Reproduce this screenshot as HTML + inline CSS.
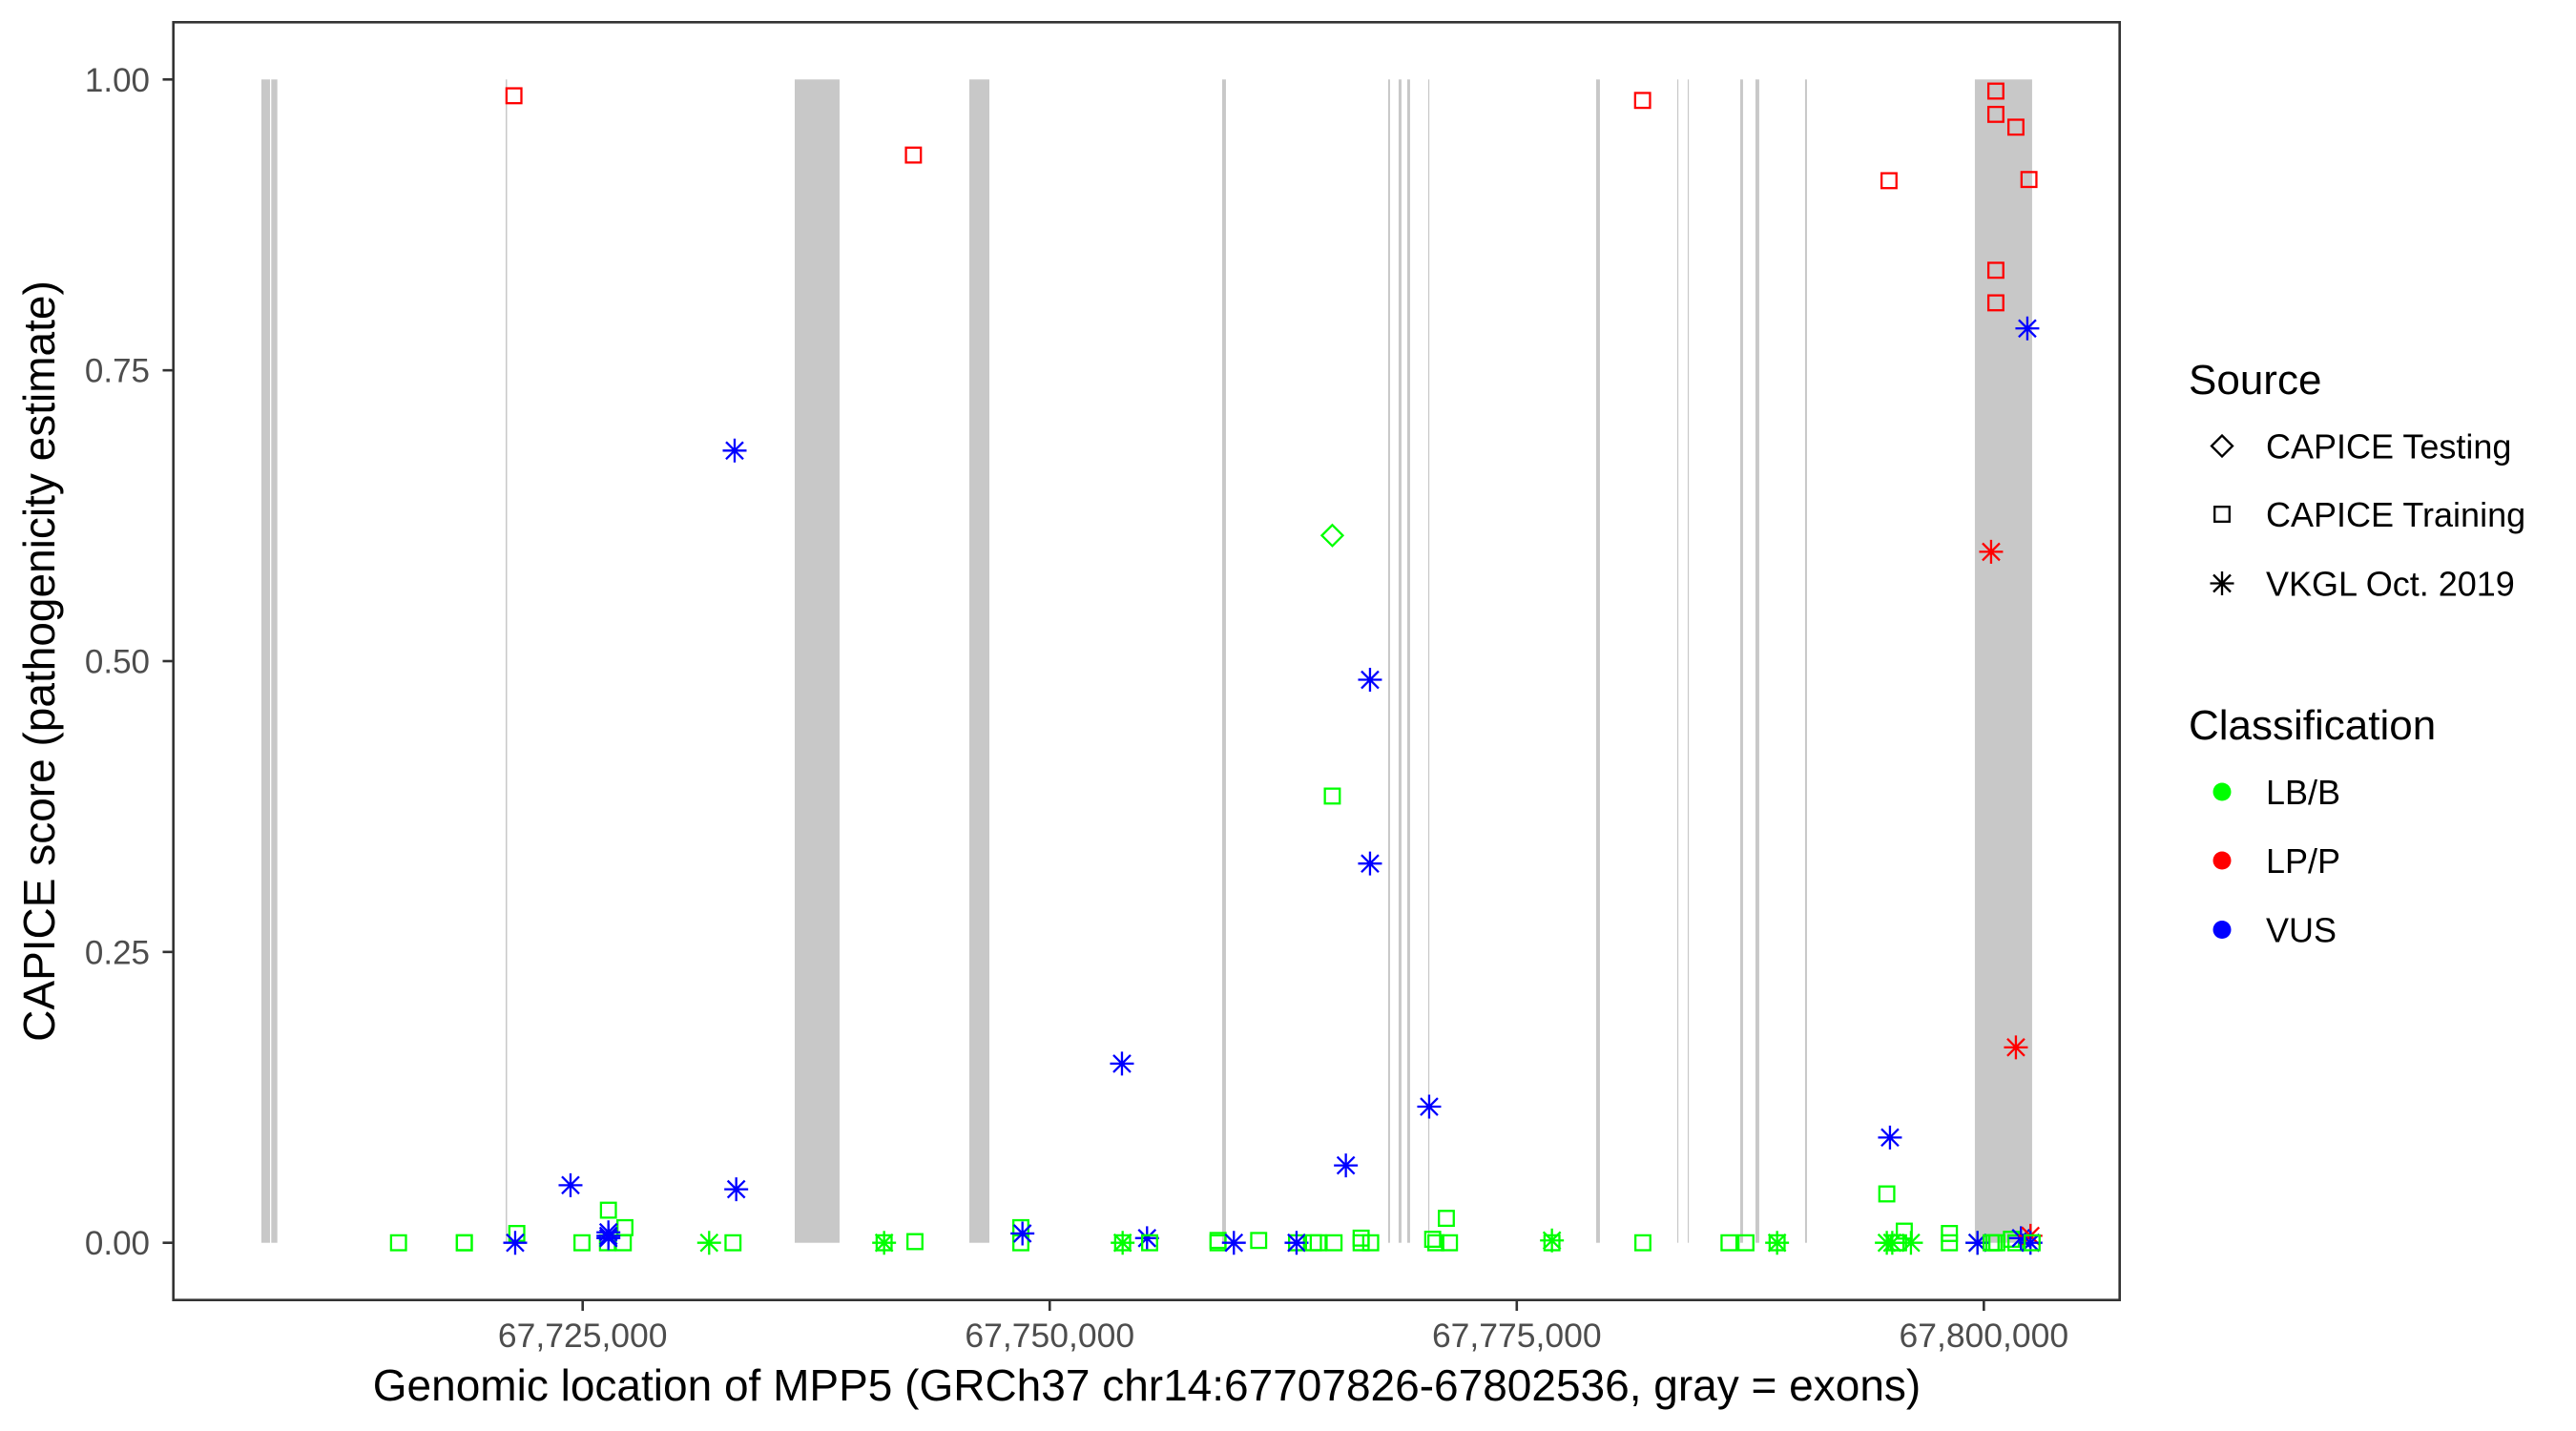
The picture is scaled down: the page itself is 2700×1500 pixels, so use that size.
<!DOCTYPE html>
<html>
<head>
<meta charset="utf-8">
<style>
  html, body { margin: 0; padding: 0; background: #ffffff; }
  #chart { width: 2700px; height: 1500px; display: block; }
  text { font-family: "Liberation Sans", Arial, sans-serif; }
</style>
</head>
<body>
<svg id="chart" width="2700" height="1500" viewBox="0 0 2700 1500" xmlns="http://www.w3.org/2000/svg">
  <rect x="0" y="0" width="2700" height="1500" fill="#ffffff"/>
  <g id="exons"></g>
  <g id="points"></g>
  <rect x="181.7" y="23.3" width="2040" height="1339.4" fill="none" stroke="#333333" stroke-width="2.6"/>
  <g id="axes"></g>
  <text x="1202" y="1468" font-size="46" text-anchor="middle" fill="#000">Genomic location of MPP5 (GRCh37 chr14:67707826-67802536, gray = exons)</text>
  <text transform="translate(57,693) rotate(-90)" font-size="46" text-anchor="middle" fill="#000">CAPICE score (pathogenicity estimate)</text>
  <g id="legend"></g>
</svg>
<script>
// ---- data ----
const exonStarts = [67707804, 67708331, 67720878, 67736351, 67745696, 67759229, 67768115, 67768676, 67769136, 67770259, 67779247, 67783588, 67784149, 67786958, 67787775, 67790431, 67799521];
const exonEnds   = [67708264, 67708657, 67720954, 67738751, 67746769, 67759433, 67768217, 67768830, 67769289, 67770310, 67779451, 67783639, 67784200, 67787111, 67787979, 67790533, 67802585];

const positions = [
  67715143, 67718666, 67718666, 67721475, 67721388, 67721322, 67724350, 67724963, 67726378, 67727261,
  67727175, 67726327, 67726378, 67726378, 67726378, 67731770, 67733047, 67733220, 67733134,
  67741136, 67741136, 67742704, 67742785, 67748454, 67748454, 67748541, 67753867, 67753903, 67753903,
  67755210, 67755348, 67759009, 67759009, 67759857, 67761185, 67763212, 67763212, 67764116,
  67764371, 67765127, 67765127, 67765219, 67765852, 67766669, 67767144, 67767144, 67767180, 67766669,
  67770310, 67770499, 67770668, 67771230, 67771398, 67776883, 67776883, 67781734, 67781749,
  67786361, 67787265, 67788935, 67788935,
  67794806, 67794925, 67794976, 67794806, 67795100, 67795435, 67795742, 67796099, 67795300,
  67798158, 67798158, 67799659, 67799659, 67800389, 67800389, 67800542, 67800644, 67800644, 67800644,
  67800644, 67800695, 67801477, 67801717, 67801717, 67801717, 67801987, 67802329, 67802416, 67802498, 67802498, 67802585
];
const scores = [
  0, 0, 0, 0.008, 0, 0.986, 0.0495, 0, 0.028, 0.013,
  0, 0, 0.006, 0.009, 0.004, 0, 0, 0.046, 0.681,
  0, 0, 0.935, 0.001, 0.013, 0, 0.008, 0.154, 0, 0,
  0.004, 0, 0, 0.002, 0, 0.002, 0, 0, 0,
  0, 0.608, 0.384, 0, 0.0665, 0.004, 0.484, 0.326, 0, 0,
  0.117, 0.003, 0, 0.021, 0, 0.002, 0, 0.982, 0,
  0, 0, 0, 0,
  0.042, 0.913, 0.0905, 0, 0, 0, 0.010, 0, 0,
  0.008, 0, 0, 0, 0.594, 0, 0, 0.990, 0.970, 0.836,
  0.808, 0, 0.003, 0.959, 0.168, 0, 0.004, 0.786, 0.914, 0.006, 0, 0
];
const sources = [
  "train", "train", "train", "train", "vkgl", "train", "vkgl", "train", "train", "train",
  "train", "train", "vkgl", "vkgl", "vkgl", "vkgl", "train", "vkgl", "vkgl",
  "vkgl", "train", "train", "train", "train", "train", "vkgl", "vkgl", "vkgl", "train",
  "vkgl", "train", "train", "train", "vkgl", "train", "train", "vkgl", "train",
  "train", "test", "train", "train", "vkgl", "train", "vkgl", "vkgl", "train", "train",
  "vkgl", "train", "train", "train", "train", "vkgl", "train", "train", "train",
  "train", "train", "vkgl", "train",
  "train", "train", "vkgl", "vkgl", "vkgl", "train", "train", "vkgl", "train",
  "train", "train", "vkgl", "vkgl", "vkgl", "train", "train", "train", "train", "train",
  "train", "train", "train", "train", "vkgl", "train", "vkgl", "vkgl", "train", "vkgl", "vkgl", "train"
];
const classes = [
  "LB", "LB", "LB", "LB", "VUS", "LP", "VUS", "LB", "LB", "LB",
  "LB", "LB", "VUS", "VUS", "VUS", "LB", "LB", "VUS", "VUS",
  "LB", "LB", "LP", "LB", "LB", "LB", "VUS", "VUS", "LB", "LB",
  "VUS", "LB", "LB", "LB", "VUS", "LB", "LB", "VUS", "LB",
  "LB", "LB", "LB", "LB", "VUS", "LB", "VUS", "VUS", "LB", "LB",
  "VUS", "LB", "LB", "LB", "LB", "LB", "LB", "LP", "LB",
  "LB", "LB", "LB", "LB",
  "LB", "LP", "VUS", "LB", "LB", "LB", "LB", "LB", "LB",
  "LB", "LB", "LB", "VUS", "LP", "LB", "LB", "LP", "LP", "LP",
  "LP", "LB", "LB", "LP", "LP", "LB", "VUS", "VUS", "LP", "LP", "VUS", "LB"
];
const yTicks = [0, 0.25, 0.5, 0.75, 1];
const yTickLabels = ["0.00", "0.25", "0.50", "0.75", "1.00"];
const xTicks = [67725000, 67750000, 67775000, 67800000];
const xTickLabels = ["67,725,000", "67,750,000", "67,775,000", "67,800,000"];
const sourceLabels = ["CAPICE Testing", "CAPICE Training", "VKGL Oct. 2019"];
const classLabels = ["LB/B", "LP/P", "VUS"];

// ---- scales ----
const NS = "http://www.w3.org/2000/svg";
const X0 = 67703091, X1 = 67807271, PX0 = 181.7, PX1 = 2221.7;
const PY0 = 1302.7, PY1 = 83.3;
function xScale(g) { return PX0 + (g - X0) * (PX1 - PX0) / (X1 - X0); }
function yScale(v) { return PY0 + v * (PY1 - PY0); }
const colorOf = { LB: "#00ff00", LP: "#ff0000", VUS: "#0000ff" };

function mk(tag, attrs, parent) {
  const e = document.createElementNS(NS, tag);
  for (const k in attrs) e.setAttribute(k, attrs[k]);
  parent.appendChild(e);
  return e;
}
function drawShape(g, shape, cx, cy, col) {
  if (shape === "train") {
    mk("rect", { x: cx - 7.8, y: cy - 7.8, width: 15.6, height: 15.6, fill: "none", stroke: col, "stroke-width": 2.3 }, g);
  } else if (shape === "test") {
    const r = 11;
    mk("polygon", { points: `${cx},${cy - r} ${cx + r},${cy} ${cx},${cy + r} ${cx - r},${cy}`, fill: "none", stroke: col, "stroke-width": 2.3 }, g);
  } else {
    const r = 12.5, d = 9;
    mk("path", { d: `M${cx - r},${cy}H${cx + r}M${cx},${cy - r}V${cy + r}M${cx - d},${cy - d}L${cx + d},${cy + d}M${cx - d},${cy + d}L${cx + d},${cy - d}`, stroke: col, "stroke-width": 2.3, fill: "none" }, g);
  }
}

// ---- exons ----
const exG = document.getElementById("exons");
for (let i = 0; i < exonStarts.length; i++) {
  const x1 = xScale(exonStarts[i]), x2 = xScale(exonEnds[i]);
  const r = mk("rect", { x: x1, y: yScale(1), width: Math.max(1.2, x2 - x1), height: yScale(0) - yScale(1), fill: "#c8c8c8" }, exG);
  
  
}

// ---- points ----
const ptG = document.getElementById("points");
for (let i = 0; i < positions.length; i++) {
  const g = mk("g", {}, ptG);
  
  
  drawShape(g, sources[i], xScale(positions[i]), yScale(scores[i]), colorOf[classes[i]]);
}

// ---- axes ----
const axG = document.getElementById("axes");
for (let i = 0; i < yTicks.length; i++) {
  const y = yScale(yTicks[i]);
  const t = mk("line", { x1: 170.5, x2: 181.7, y1: y, y2: y, stroke: "#333333", "stroke-width": 2.6 }, axG);
  
  
  const l = mk("text", { x: 157, y: y + 12.5, "font-size": 35, "text-anchor": "end", fill: "#4d4d4d" }, axG);
  l.textContent = yTickLabels[i];
  
  
}
for (let i = 0; i < xTicks.length; i++) {
  const x = xScale(xTicks[i]);
  const t = mk("line", { x1: x, x2: x, y1: 1362.7, y2: 1374, stroke: "#333333", "stroke-width": 2.6 }, axG);
  
  
  const l = mk("text", { x: x, y: 1412, "font-size": 35.5, "text-anchor": "middle", fill: "#4d4d4d" }, axG);
  l.textContent = xTickLabels[i];
  
  
}

// ---- legend ----
const lg = document.getElementById("legend");
const st = mk("text", { x: 2294, y: 413, "font-size": 44, fill: "#000" }, lg);
st.textContent = "Source";


const srcKeys = ["test", "train", "vkgl"];
const srcY = [467.5, 539, 611.5];
for (let i = 0; i < srcKeys.length; i++) {
  const g = mk("g", {}, lg);
  
  
  drawShape(g, srcKeys[i], 2329, srcY[i], "#000000");
  const t = mk("text", { x: 2375, y: srcY[i] + 13, "font-size": 36, fill: "#000" }, g);
  t.textContent = sourceLabels[i];
}
const ct = mk("text", { x: 2294, y: 775, "font-size": 44, fill: "#000" }, lg);
ct.textContent = "Classification";


const clsKeys = ["LB", "LP", "VUS"];
const clsY = [830, 902, 974.5];
for (let i = 0; i < clsKeys.length; i++) {
  const g = mk("g", {}, lg);
  
  
  mk("circle", { cx: 2329, cy: clsY[i], r: 9.5, fill: colorOf[clsKeys[i]] }, g);
  const t = mk("text", { x: 2375, y: clsY[i] + 13, "font-size": 36, fill: "#000" }, g);
  t.textContent = classLabels[i];
}
</script>
</body>
</html>
